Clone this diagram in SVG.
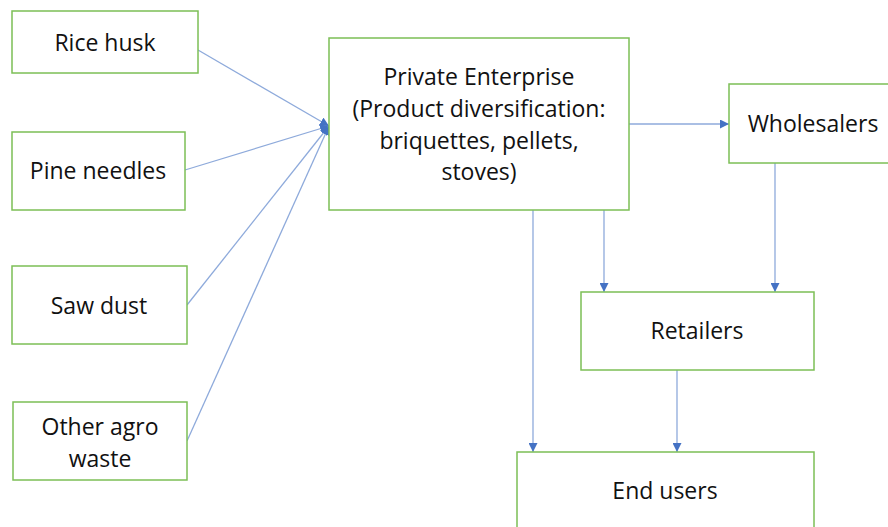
<svg xmlns="http://www.w3.org/2000/svg" width="888" height="527" viewBox="0 0 888 527">
  <defs>
    <marker id="arrow" viewBox="0 0 10 10" refX="10" refY="5" markerWidth="9" markerHeight="9" markerUnits="userSpaceOnUse" orient="auto">
      <path d="M0,0 L10,5 L0,10 z" fill="#4472c4"/>
    </marker>
    <style>
      .box { fill: #ffffff; stroke: #7cbf56; stroke-width: 1.5; }
      .lbl { font-family: "Open Sans", "Liberation Sans", sans-serif; font-size: 23px; fill: #111111; text-anchor: middle; }
      .edge { stroke: #8eaadb; stroke-width: 1.3; fill: none; marker-end: url(#arrow); }
    </style>
  </defs>
  <rect width="888" height="527" fill="#ffffff"/>

  <g id="connectors">
    <line class="edge" x1="198" y1="50" x2="329" y2="126"/>
    <line class="edge" x1="185" y1="170" x2="329" y2="126"/>
    <line class="edge" x1="187" y1="305" x2="329" y2="126"/>
    <line class="edge" x1="187" y1="441" x2="329" y2="126"/>
    <line class="edge" x1="629" y1="124" x2="729" y2="124"/>
    <line class="edge" x1="533" y1="210" x2="533" y2="452"/>
    <line class="edge" x1="604" y1="210" x2="604" y2="292"/>
    <line class="edge" x1="775" y1="163" x2="775" y2="292"/>
    <line class="edge" x1="677" y1="370" x2="677" y2="452"/>
  </g>

  <g id="rice-husk">
    <rect class="box" x="12" y="11" width="186" height="62"/>
    <text class="lbl" x="105" y="51">Rice husk</text>
  </g>
  <g id="pine-needles">
    <rect class="box" x="12" y="132" width="173" height="78"/>
    <text class="lbl" x="98" y="179">Pine needles</text>
  </g>
  <g id="saw-dust">
    <rect class="box" x="12" y="266" width="175" height="78"/>
    <text class="lbl" x="99" y="314">Saw dust</text>
  </g>
  <g id="other-agro-waste">
    <rect class="box" x="13" y="402" width="174" height="78"/>
    <text class="lbl" x="100" y="435">Other agro</text>
    <text class="lbl" x="100" y="467">waste</text>
  </g>
  <g id="private-enterprise">
    <rect class="box" x="329" y="38" width="300" height="172"/>
    <text class="lbl" x="479" y="85">Private Enterprise</text>
    <text class="lbl" x="479" y="117">(Product diversification:</text>
    <text class="lbl" x="479" y="149">briquettes, pellets,</text>
    <text class="lbl" x="479" y="180">stoves)</text>
  </g>
  <g id="wholesalers">
    <rect class="box" x="729" y="84" width="168" height="79"/>
    <text class="lbl" x="813" y="132">Wholesalers</text>
  </g>
  <g id="retailers">
    <rect class="box" x="581" y="292" width="233" height="78"/>
    <text class="lbl" x="697" y="339">Retailers</text>
  </g>
  <g id="end-users">
    <rect class="box" x="517" y="452" width="297" height="90"/>
    <text class="lbl" x="665" y="499">End users</text>
  </g>
</svg>
